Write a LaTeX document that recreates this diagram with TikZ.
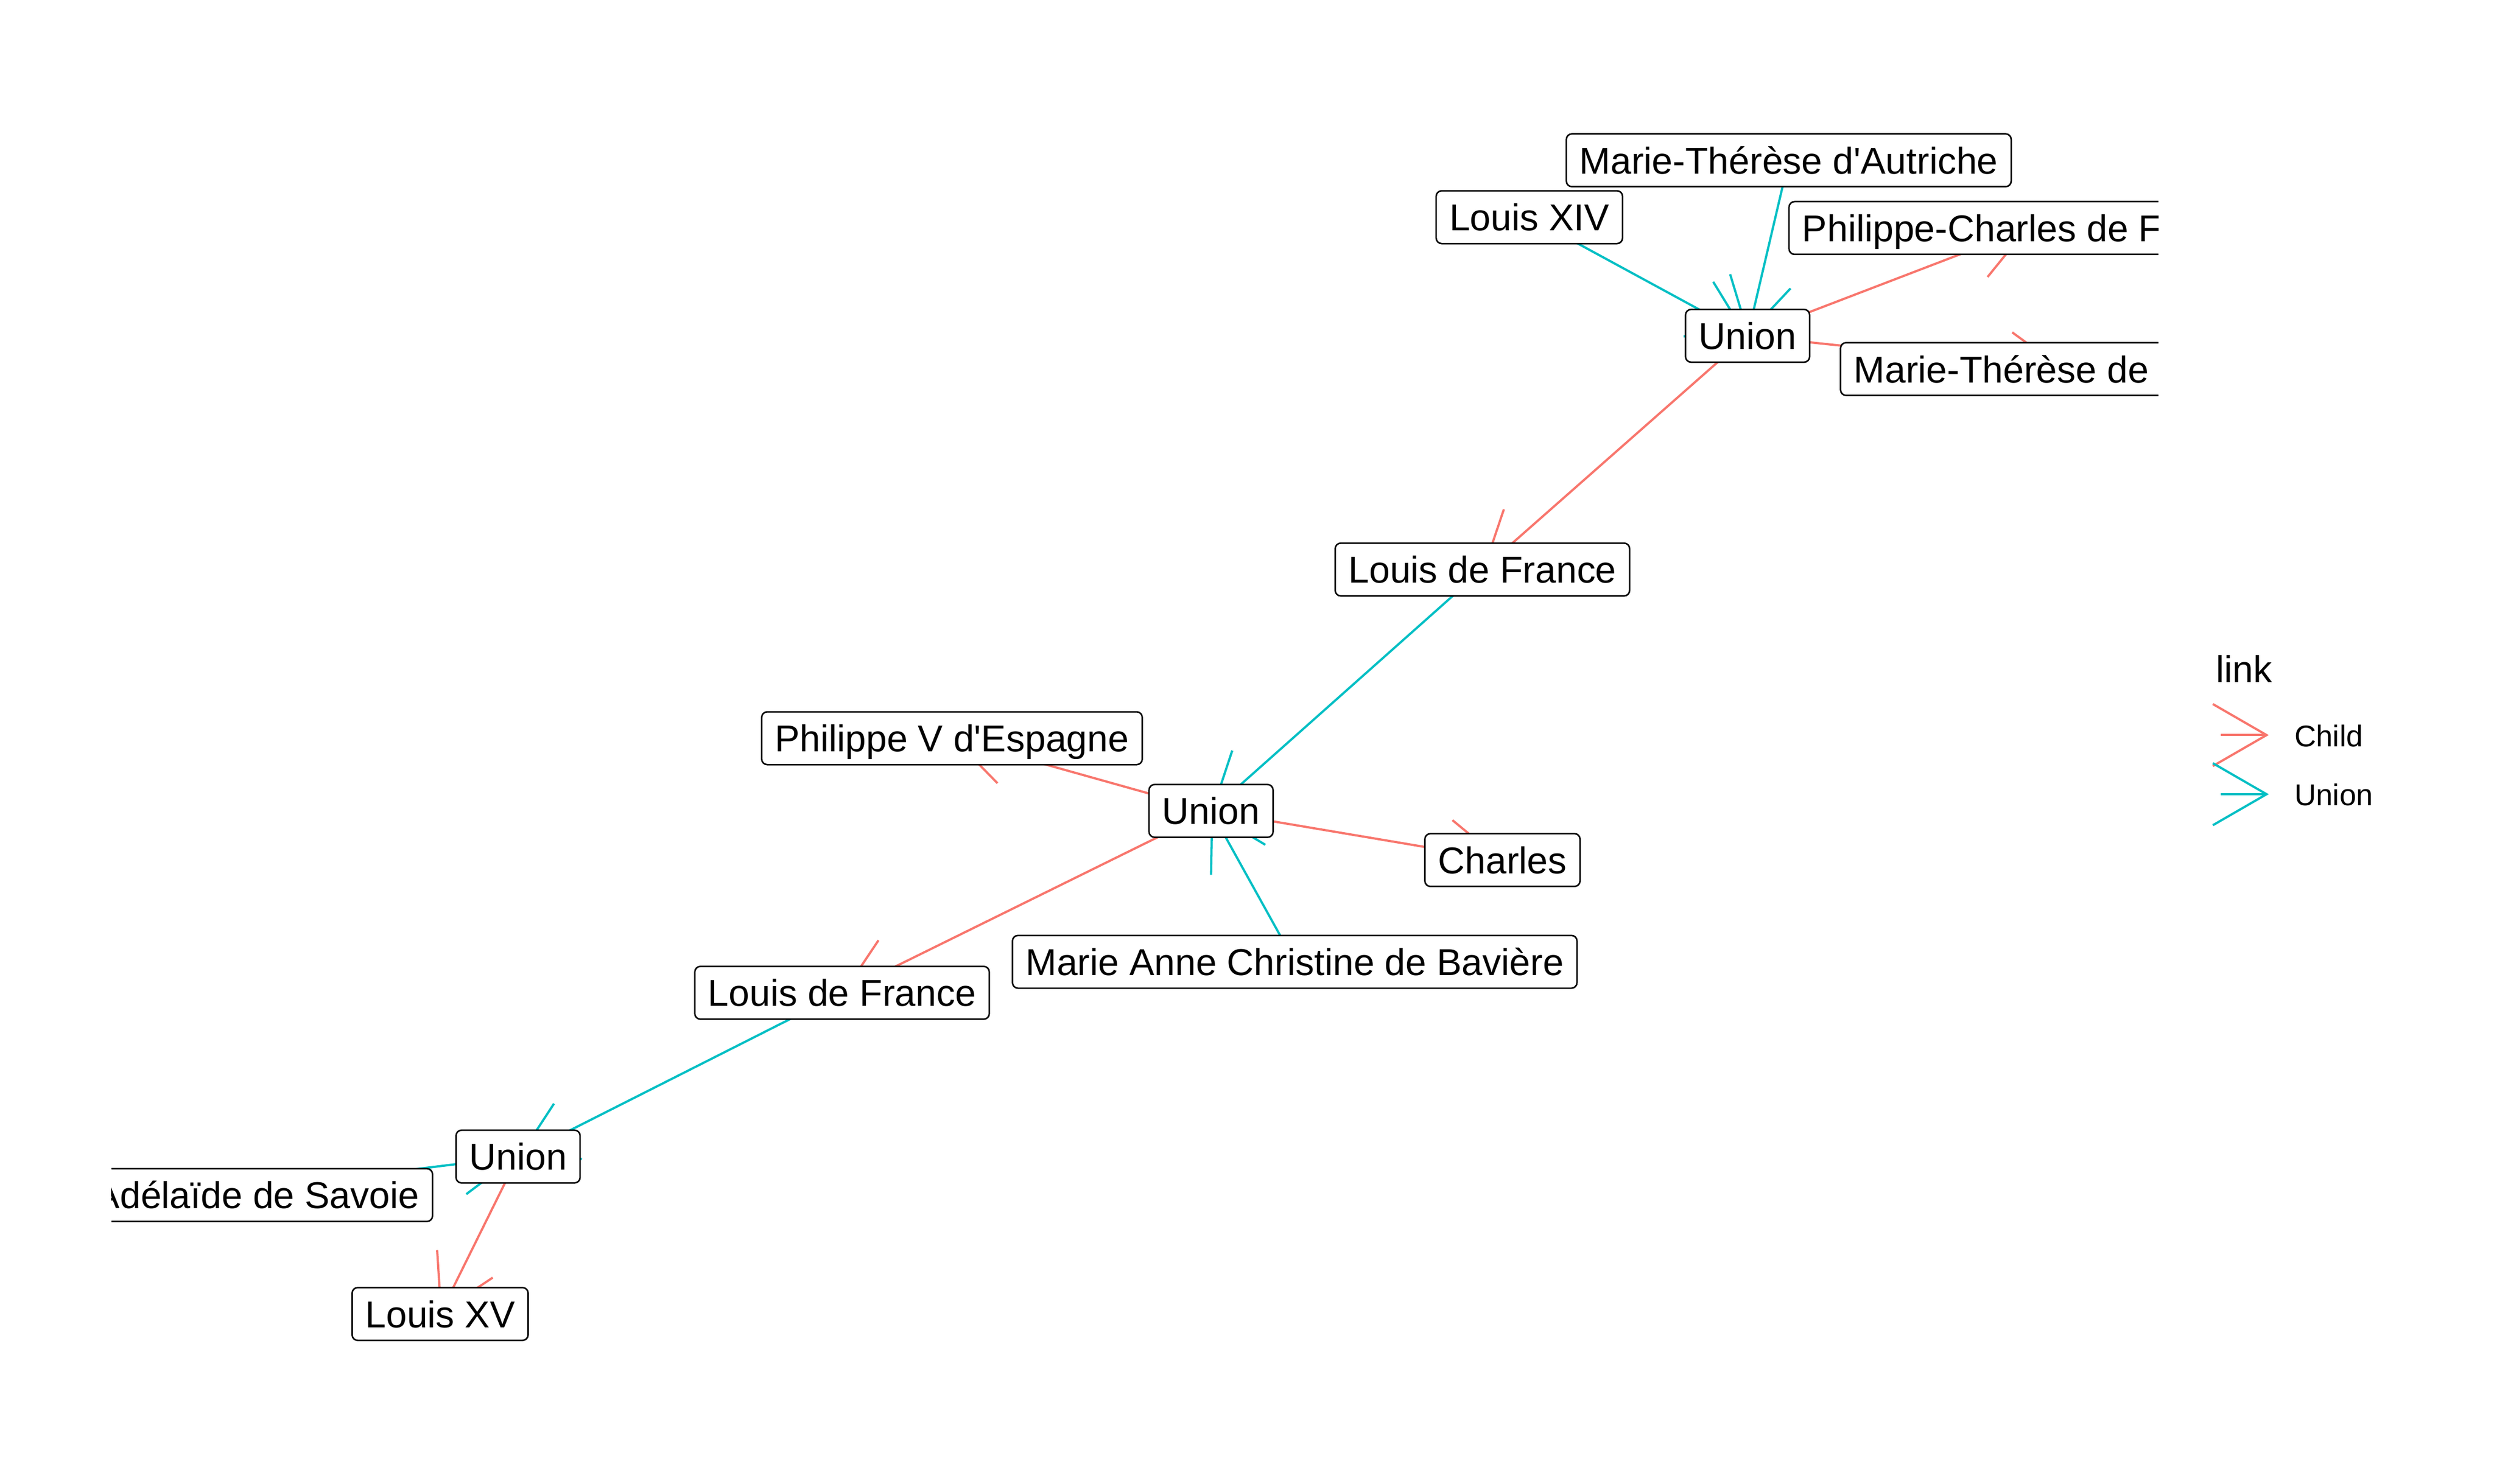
\documentclass[tikz,border=0pt]{standalone}
\usepackage{fontspec}
\setmainfont{Liberation Sans}[Ligatures=TeXOff]
\usetikzlibrary{arrows.meta,backgrounds}
\definecolor{childcol}{HTML}{F8766D}
\definecolor{unioncol}{HTML}{00BFC4}
\tikzset{person/.style={draw=black, line width=0.95pt, fill=white, rounded corners=3.5pt,
                        font=\fontsize{23.5}{28}\selectfont, text height=17pt, text depth=0pt,
                        inner xsep=8.3pt, inner ysep=8.1pt},
        famlink/.style={line width=1.4pt, -{Straight Barb[angle=60:39pt]}},
        childlink/.style={famlink, draw=childcol},
        unionlink/.style={famlink, draw=unioncol},
        legendtext/.style={anchor=base west, inner sep=0pt},
        }

\begin{document}
\begin{tikzpicture}[x=1pt, y=-1pt]
    \useasboundingbox (0,0) rectangle (1568,933.3);
    \begin{scope}
        \clip (70,0) rectangle (1357,933.3);
        % top generation
        \node[person] (autriche) at (1124.6,100.8) {Marie-Thérèse d'Autriche};
        \node[person] (louisXIV) at (961.5,136.6) {Louis XIV};
        \node[person] (unionA) at (1098.7,211.2) {Union};
        \node[person, anchor=west] (philCharles) at (1124.3,143.4) {Philippe-Charles de France};
        \node[person, anchor=west] (mtFrance) at (1156.7,232.1) {Marie-Thérèse de France};
        \node[person] (dauphin) at (932.0,358.2) {Louis de France};
        % middle generation
        \node[person] (philippeV) at (598.5,464.3) {Philippe V d'Espagne};
        \node[person] (unionB) at (761.4,510.0) {Union};
        \node[person] (charles) at (944.6,540.9) {Charles};
        \node[person] (baviere) at (814,604.9) {Marie Anne Christine de Bavière};
        \node[person] (bourgogne) at (529.4,624.4) {Louis de France};
        % bottom generation
        \node[person] (unionC) at (325.7,727.4) {Union};
        \node[person, anchor=east] (savoie) at (272.4,751.6) {Marie-Adélaïde de Savoie};
        \node[person] (louisXV) at (276.7,826.4) {Louis XV};
    \end{scope}

    \begin{scope}[on background layer]
        \clip (70,0) rectangle (1357,933.3);
        \draw[unionlink] (louisXIV.center) -- (unionA.center);
        \draw[unionlink] (autriche.center) -- (unionA.center);
        \draw[childlink] (unionA.center) -- (philCharles.center);
        \draw[childlink] (unionA.center) -- (mtFrance.center);
        \draw[childlink] (unionA.center) -- (dauphin.center);

        \draw[unionlink] (dauphin.center) -- (unionB.center);
        \draw[unionlink] (baviere.center) -- (unionB.center);
        \draw[childlink] (unionB.center) -- (philippeV.center);
        \draw[childlink] (unionB.center) -- (charles.center);
        \draw[childlink] (unionB.center) -- (bourgogne.center);

        \draw[unionlink] (bourgogne.center) -- (unionC.center);
        \draw[unionlink] (savoie.center) -- (unionC.center);
        \draw[childlink] (unionC.center) -- (louisXV.center);
    \end{scope}

    % legend
    \node[legendtext, font=\fontsize{23.5}{28}\selectfont] (legtitle) at (1393,429.2) {link};
    \coordinate (childtail) at (1396.2,462.3);
    \coordinate (childtip) at (1426.4,462.3);
    \draw[childlink] (childtail) -- (childtip);
    \node[legendtext, font=\fontsize{18.9}{22}\selectfont] (childlab) at (1442.3,469.5) {Child};
    \coordinate (uniontail) at (1396.2,499.5);
    \coordinate (uniontip) at (1426.4,499.5);
    \draw[unionlink] (uniontail) -- (uniontip);
    \node[legendtext, font=\fontsize{18.9}{22}\selectfont] (unionlab) at (1442.3,506.7) {Union};
\end{tikzpicture}
\end{document}
